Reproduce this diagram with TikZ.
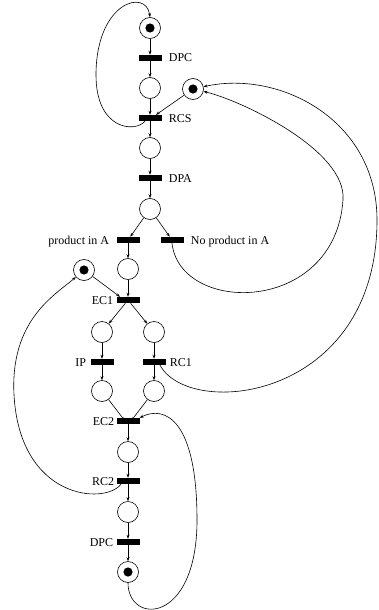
\documentclass[tikz,border=0pt]{standalone}
\usepackage{fontspec}
\setmainfont{Liberation Serif}
\usetikzlibrary{arrows.meta}
\begin{document}
\begin{tikzpicture}[x=1pt,y=-1pt,
  place/.style={circle,draw,minimum size=21pt,inner sep=0pt,line width=0.6pt},
  trans/.style={rectangle,fill=black,minimum width=23pt,minimum height=6pt,inner sep=0pt},
  lbl/.style={font=\fontsize{12}{14}\selectfont,inner sep=0pt,text height=8pt,text depth=0pt},
  arc/.style={-{Stealth[length=4pt,width=3pt]},line width=0.6pt}
]
\useasboundingbox (0,0) rectangle (379,610);
% places and transitions
\node[place] (p1) at (150,28) {};
\node[trans] (t1) at (150,58) {};
\node[place] (p2) at (150,88) {};
\node[place] (pr) at (193,89) {};
\node[trans] (t2) at (150,118) {};
\node[place] (p3) at (150,148) {};
\node[trans] (t3) at (150,178) {};
\node[place] (p4) at (150,209) {};
\node[trans] (ta) at (128,240) {};
\node[trans] (tb) at (172,240) {};
\node[place] (p5) at (128,269) {};
\node[place] (pr2) at (84,270) {};
\node[trans] (t4) at (128,300) {};
\node[place] (p6) at (102,332) {};
\node[place] (p7) at (154,332) {};
\node[trans] (t5) at (102,362) {};
\node[trans] (t6) at (154,362) {};
\node[place] (p8) at (102,391) {};
\node[place] (p9) at (154,391) {};
\node[trans] (t7) at (128,421) {};
\node[place] (p10) at (128,452) {};
\node[trans] (t8) at (128,481) {};
\node[place] (p11) at (128,512) {};
\node[trans] (t9) at (128,542) {};
\node[place] (p12) at (128,572) {};
% tokens
\foreach \p in {p1,pr,pr2,p12} \fill (\p) circle (4.6pt);
% labels
\node[lbl,anchor=west] (l1) at ([xshift=7pt]t1.east) {DPC};
\node[lbl,anchor=west] (l2) at ([xshift=7pt]t2.east) {RCS};
\node[lbl,anchor=west] (l3) at ([xshift=7pt]t3.east) {DPA};
\node[lbl,anchor=east] (la) at ([xshift=-7pt]ta.west) {product in A};
\node[lbl,anchor=west] (lb) at ([xshift=7pt]tb.east) {No product in A};
\node[lbl,anchor=east] (l4) at ([xshift=-3pt]t4.west) {EC1};
\node[lbl,anchor=east] (l5) at ([xshift=-4pt]t5.west) {IP};
\node[lbl,anchor=west] (l6) at ([xshift=4pt]t6.east) {RC1};
\node[lbl,anchor=east] (l7) at ([xshift=-2pt]t7.west) {EC2};
\node[lbl,anchor=east] (l8) at ([xshift=-2pt]t8.west) {RC2};
\node[lbl,anchor=east] (l9) at ([xshift=-3pt]t9.west) {DPC};
% straight arcs
\draw[arc] (p1) -- (t1);
\draw[arc] (t1) -- (p2);
\draw[arc] (p2) -- (t2);
\draw[arc] (t2) -- (p3);
\draw[arc] (p3) -- (t3);
\draw[arc] (t3) -- (p4);
\draw[arc] (p4) -- (ta);
\draw[arc] (p4) -- (tb);
\draw[arc] (ta) -- (p5);
\draw[arc] (p5) -- (t4);
\draw[arc] (t4) -- (p6);
\draw[arc] (t4) -- (p7);
\draw[arc] (p6) -- (t5);
\draw[arc] (p7) -- (t6);
\draw[arc] (t5) -- (p8);
\draw[arc] (t6) -- (p9);
\draw[arc] (p8) -- ([xshift=-3pt]t7.center);
\draw[arc] (p9) -- ([xshift=3pt]t7.center);
\draw[arc] (t7) -- (p10);
\draw[arc] (p10) -- (t8);
\draw[arc] (t8) -- (p11);
\draw[arc] (p11) -- (t9);
\draw[arc] (t9) -- (p12);
\draw[arc] (pr) -- ([xshift=6pt]t2.north);
\draw[arc] (pr2) -- ([xshift=-8pt]t4.north);
% curved arcs
\draw[arc] ([xshift=-5pt]t2.south) .. controls (135,133) and (96,130) .. (96,75)
  .. controls (96,2) and (146,-12) .. (p1.north);
\draw[arc] (tb.south) .. controls (180,315) and (335,315) .. (343,200)
  .. controls (347,150) and (240,100) .. (pr);
\draw[arc] ([xshift=6pt]t6.south) .. controls (190,420) and (377,400) .. (377,220)
  .. controls (377,120) and (280,70) .. (pr);
\draw[arc] ([xshift=-7pt]t8.south) .. controls (105,505) and (20,500) .. (14,395)
  .. controls (10,320) and (55,295) .. (pr2);
\draw[arc] (p12.south) .. controls (128,625) and (197,625) .. (197,520)
  .. controls (197,420) and (165,405) .. (t7.north east);
\end{tikzpicture}
\end{document}
